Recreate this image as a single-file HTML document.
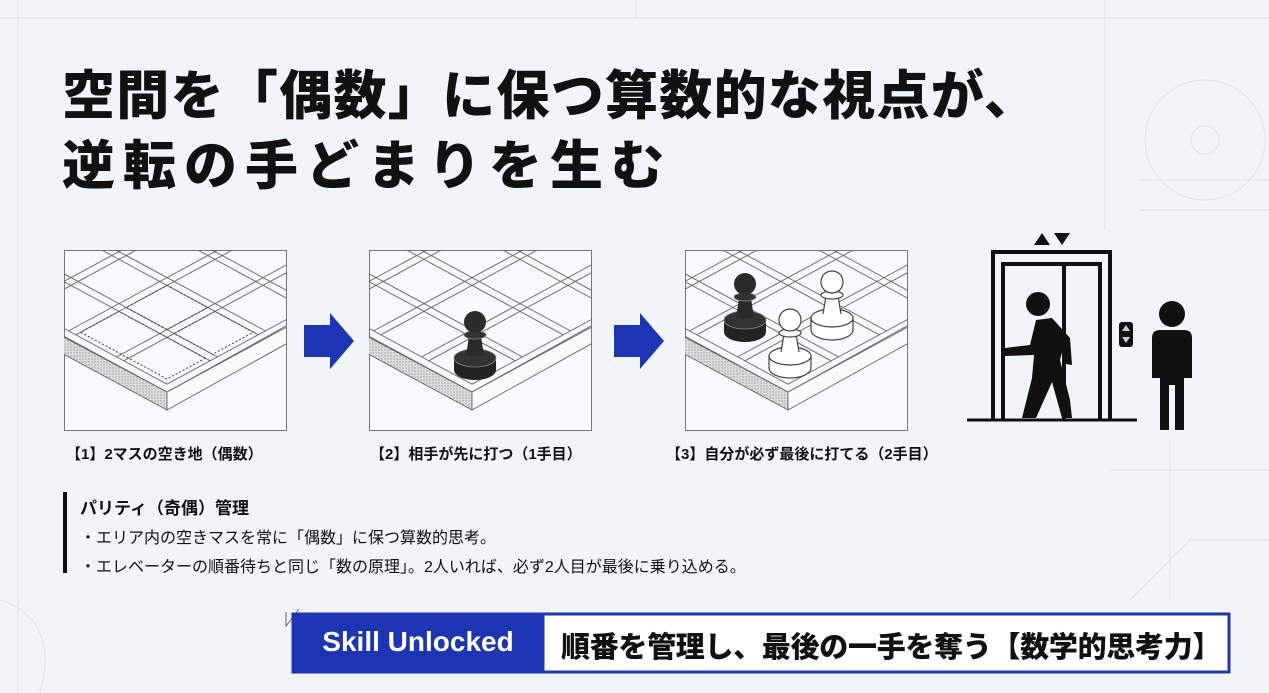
<!DOCTYPE html>
<html><head><meta charset="utf-8"><style>
body{margin:0;width:1269px;height:693px;background:#f2f5f7;overflow:hidden;position:relative;font-family:"Liberation Sans","Noto Sans CJK JP",sans-serif;}
.t{position:absolute;left:62px;font-size:53px;font-weight:900;color:#111;letter-spacing:1.3px;white-space:nowrap;line-height:1}
.cap{position:absolute;font-size:15px;color:#111;white-space:nowrap;font-weight:bold}
.b{position:absolute;left:80px;font-size:16px;color:#111;white-space:nowrap}
</style></head><body>
<svg width="1269" height="693" style="position:absolute;left:0;top:0">
<g stroke="#dfe4e8" fill="none" stroke-width="1">
<line x1="18" y1="0" x2="18" y2="693"/><line x1="0" y1="18" x2="1269" y2="18"/>
<line x1="636" y1="0" x2="636" y2="18"/><line x1="1105" y1="0" x2="1105" y2="230"/>
<circle cx="1205" cy="140" r="60"/><circle cx="1205" cy="140" r="14"/>
<line x1="1110" y1="470" x2="1269" y2="470"/><line x1="1170" y1="440" x2="1170" y2="600"/>
<path d="M1130 600 L1190 540 L1269 540"/><path d="M0 600 Q60 620 40 693"/>
<line x1="1140" y1="180" x2="1269" y2="180"/><line x1="1140" y1="210" x2="1269" y2="210"/>
</g>
<defs>
<clipPath id="c"><rect x="0" y="0" width="222" height="180"/></clipPath>
<pattern id="h" width="3" height="3" patternUnits="userSpaceOnUse"><rect width="3" height="3" fill="#ddd"/><circle cx="1" cy="1" r="0.7" fill="#999"/></pattern>
<g id="board">
<rect x="0.5" y="0.5" width="222" height="180" fill="#f7f9fa" stroke="#777"/>
<g clip-path="url(#c)">
<polygon points="103,142 103,160 -10,99 -10,82" fill="url(#h)" stroke="#555" stroke-width="0.8"/>
<polygon points="103,142 103,160 240,84 240,66" fill="#fafafa" stroke="#555" stroke-width="0.8"/>
<g transform="matrix(-48,-26,48,-26,103,142)" stroke="#666" stroke-width="0.9" fill="none">
<path vector-effect="non-scaling-stroke" d="M0 0 L8 0 M0 0 L0 8 M0.15 0.15 L8 0.15 M0.15 0.15 L0.15 8"/>
<path vector-effect="non-scaling-stroke" d="M1.05 0.15 L1.05 8 M1.2 0.15 L1.2 8 M2.05 0.15 L2.05 8 M2.2 0.15 L2.2 8 M3.05 0.15 L3.05 8 M3.2 0.15 L3.2 8 M4.05 0.15 L4.05 8 M4.2 0.15 L4.2 8"/>
<path vector-effect="non-scaling-stroke" d="M0.15 1.05 L8 1.05 M0.15 1.2 L8 1.2 M0.15 2.05 L8 2.05 M0.15 2.2 L8 2.2 M0.15 3.05 L8 3.05 M0.15 3.2 L8 3.2 M0.15 4.05 L8 4.05 M0.15 4.2 L8 4.2"/>
</g>
</g>
</g>
<g id="bp"><ellipse cx="0" cy="22" rx="21" ry="10" fill="#222"/><rect x="-21" y="10" width="42" height="12" fill="#222"/><ellipse cx="0" cy="10" rx="21" ry="9" fill="#333" stroke="#888" stroke-width="0.8"/><path d="M-9 8 L-6 -12 L6 -12 L9 8Z" fill="#2a2a2a"/><ellipse cx="0" cy="-13" rx="11" ry="4" fill="#333" stroke="#888" stroke-width="0.8"/><circle cx="0" cy="-26" r="11" fill="#2b2b2b"/></g>
<g id="wp" fill="#fff" stroke="#444" stroke-width="1.2"><path d="M-21 10 L-21 22 A21 10 0 0 0 21 22 L21 10"/><ellipse cx="0" cy="10" rx="21" ry="9"/><path d="M-9 6 L-6 -12 L6 -12 L9 6"/><ellipse cx="0" cy="-13" rx="11" ry="4"/><circle cx="0" cy="-26" r="11"/></g>
</defs>
<use href="#board" x="64" y="250"/>
<g transform="matrix(-48,-26,48,-26,167,392)" fill="none" stroke="#444" stroke-dasharray="2 2"><path vector-effect="non-scaling-stroke" d="M0.25 0.25 L2.05 0.25 L2.05 1.05 L0.25 1.05Z M1.2 1.2 L2.05 1.2 L2.05 2.05 L1.2 2.05Z M0.25 1.2 L1.05 1.2 L1.05 2.05 L0.25 2.05Z M1.2 0.25 L2.05 0.25"/></g>
<use href="#board" x="369" y="250"/>
<use href="#bp" x="475" y="348"/>
<use href="#board" x="685" y="250"/>
<use href="#bp" x="745" y="310"/>
<use href="#wp" x="832" y="308"/>
<use href="#wp" x="790" y="346"/>
<path d="M304 325 L330 325 L330 313 L354 341 L330 369 L330 357 L304 357Z" fill="#1c35b5"/>
<path d="M614 325 L640 325 L640 313 L664 341 L640 369 L640 357 L614 357Z" fill="#1c35b5"/>
<g fill="none" stroke="#111" stroke-width="4">
<path d="M993 420 L993 252 L1110 252 L1110 420"/>
<path d="M1003 420 L1003 264 L1100 264 L1100 420"/>
<line x1="1064" y1="264" x2="1064" y2="420"/>
<line x1="967" y1="420" x2="1137" y2="420" stroke-width="3"/>
</g>
<path d="M1034 245 L1042 233 L1050 245Z M1054 233 L1070 233 L1062 245Z" fill="#111"/>
<rect x="1119" y="322" width="14" height="25" rx="3" fill="#111"/><path d="M1122 331 L1126 325 L1130 331Z M1122 337 L1130 337 L1126 343Z" fill="#ccc"/>
<circle cx="1038" cy="304" r="12" fill="#111"/>
<path d="M1005 348 L1030 345 L1036 320 L1052 318 L1070 338 L1072 365 L1066 364 L1064 345 L1060 360 L1070 400 L1072 418 L1062 418 L1052 382 L1036 418 L1022 418 L1032 378 L1034 355 L1005 356Z" fill="#111"/>
<circle cx="1172" cy="314" r="13" fill="#111"/>
<path d="M1152 338 Q1152 330 1160 330 L1184 330 Q1192 330 1192 338 L1192 378 L1184 378 L1184 430 L1175 430 L1175 385 L1169 385 L1169 430 L1160 430 L1160 378 L1152 378Z" fill="#111"/>
<rect x="63" y="492" width="4" height="81" fill="#111"/>
<path d="M286 612 L286 626 L299 609" fill="none" stroke="#666" stroke-width="1"/>
<path d="M293 614 L543 614 L543 672 L293 672Z" fill="#1c35b5"/>
<rect x="543" y="614" width="686" height="58" fill="#fff" stroke="#1c35b5" stroke-width="3"/>
<rect x="293" y="614" width="936" height="58" fill="none" stroke="#1c35b5" stroke-width="3"/>
</svg>
<div class="t" style="top:70px">空間を「偶数」に保つ算数的な視点が、</div>
<div class="t" style="top:140px;letter-spacing:8px">逆転の手どまりを生む</div>
<div class="cap" style="left:66px;top:443px">【1】2マスの空き地（偶数）</div>
<div class="cap" style="left:370px;top:443px">【2】相手が先に打つ（1手目）</div>
<div class="cap" style="left:666px;top:443px">【3】自分が必ず最後に打てる（2手目）</div>
<div style="position:absolute;left:80px;top:494px;font-size:17px;font-weight:bold;color:#111">パリティ（奇偶）管理</div>
<div class="b" style="top:524px">・エリア内の空きマスを常に「偶数」に保つ算数的思考。</div>
<div class="b" style="top:553px">・エレベーターの順番待ちと同じ「数の原理」。2人いれば、必ず2人目が最後に乗り込める。</div>
<div style="position:absolute;left:293px;top:626px;width:250px;text-align:center;color:#fff;font-size:28px;font-weight:bold">Skill Unlocked</div>
<div style="position:absolute;left:561px;top:624px;color:#111;font-size:29px;font-weight:900;white-space:nowrap;letter-spacing:-0.3px">順番を管理し、最後の一手を奪う【数学的思考力】</div>
</body></html>
